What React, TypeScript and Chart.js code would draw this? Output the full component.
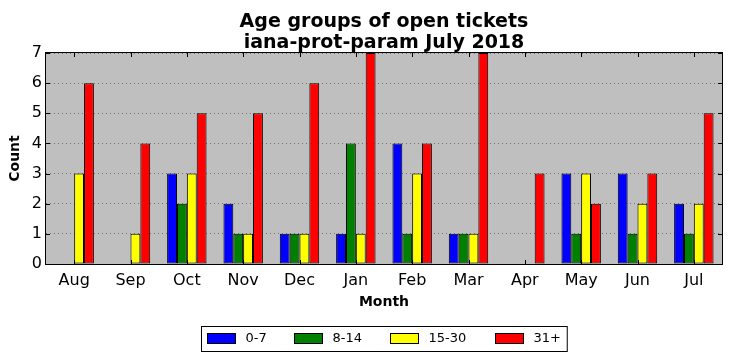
import React, { useEffect, useRef } from "react";
import { Chart, registerables } from "chart.js";

Chart.register(...registerables);

const categories = ["Aug", "Sep", "Oct", "Nov", "Dec", "Jan", "Feb", "Mar", "Apr", "May", "Jun", "Jul"];
const age0to7 = [0, 0, 3, 2, 1, 1, 4, 1, 0, 3, 3, 2];
const age8to14 = [0, 0, 2, 1, 1, 4, 1, 1, 0, 1, 1, 1];
const age15to30 = [3, 1, 3, 1, 1, 1, 3, 1, 0, 3, 2, 2];
const age31plus = [6, 4, 5, 5, 6, 7, 4, 7, 3, 2, 3, 5];
const seriesLabels = ["0-7", "8-14", "15-30", "31+"];
const seriesColors = ["#0000ff", "#008000", "#ffff00", "#ff0000"];
const yMin = 0;
const yMax = 7;
const titleLines = ["Age groups of open tickets", "iana-prot-param July 2018"];
const xTitle = "Month";
const yTitle = "Count";

const FONT = '"DejaVu Sans", sans-serif';

const decorPlugin = {
  id: "decor",
  beforeDraw(chart: any) {
    const { ctx, chartArea: a } = chart;
    ctx.save();
    ctx.fillStyle = "#bfbfbf";
    ctx.fillRect(a.left, a.top, a.right - a.left, a.bottom - a.top);
    ctx.restore();
  },
  afterDatasetsDraw(chart: any) {
    const { ctx, chartArea: a, scales } = chart;
    const xs = scales.x;
    const ys = scales.y;
    ctx.save();
    ctx.strokeStyle = "#000";
    ctx.lineWidth = 1;
    ctx.beginPath();
    xs.ticks.forEach((_: any, i: number) => {
      const px = Math.round(xs.getPixelForTick(i)) + 0.5;
      ctx.moveTo(px, a.bottom);
      ctx.lineTo(px, a.bottom - 4);
      ctx.moveTo(px, a.top);
      ctx.lineTo(px, a.top + 4);
    });
    ys.ticks.forEach((_: any, i: number) => {
      const py = Math.round(ys.getPixelForTick(i)) + 0.5;
      ctx.moveTo(a.left, py);
      ctx.lineTo(a.left + 4, py);
      ctx.moveTo(a.right, py);
      ctx.lineTo(a.right - 4, py);
    });
    ctx.stroke();
    ctx.strokeRect(a.left - 0.5, a.top - 0.5, a.right - a.left + 1, a.bottom - a.top + 1);
    ctx.restore();
  },
  afterDraw(chart: any) {
    const { ctx, chartArea: a } = chart;
    const cx = (a.left + a.right) / 2;
    ctx.save();
    // title
    ctx.fillStyle = "#000";
    ctx.font = `bold 19px ${FONT}`;
    ctx.textAlign = "center";
    ctx.textBaseline = "alphabetic";
    ctx.fillText(titleLines[0], cx, 27);
    ctx.fillText(titleLines[1], cx, 47.5);

    // legend
    ctx.font = `13px ${FONT}`;
    const patchW = 28;
    const patchH = 10;
    const textGap = 10;
    const itemGap = 28.6;
    const padL = 5;
    const padR = 7;
    const ds = chart.data.datasets;
    const widths = ds.map((d: any) => ctx.measureText(d.label).width);
    let total = padL + padR;
    widths.forEach((w: number, i: number) => {
      total += patchW + textGap + w;
      if (i < widths.length - 1) total += itemGap;
    });
    const fx = Math.round(cx - total / 2) + 0.5;
    const fy = 326.5;
    const fh = 25;
    ctx.fillStyle = "#fff";
    ctx.fillRect(fx, fy, total, fh);
    ctx.strokeStyle = "#000";
    ctx.lineWidth = 1;
    ctx.strokeRect(fx, fy, total, fh);
    let x = fx + padL;
    const py = 333.5;
    ds.forEach((d: any, i: number) => {
      const px = Math.round(x) + 0.5;
      ctx.fillStyle = d.backgroundColor;
      ctx.fillRect(px, py, patchW, patchH);
      ctx.strokeStyle = "#000";
      ctx.strokeRect(px, py, patchW, patchH);
      ctx.fillStyle = "#000";
      ctx.textAlign = "left";
      ctx.textBaseline = "middle";
      ctx.fillText(d.label, px + patchW + textGap, py + patchH / 2);
      x += patchW + textGap + widths[i] + itemGap;
    });
    ctx.restore();
  },
};

export default function App() {
  const ref = useRef<HTMLCanvasElement | null>(null);

  useEffect(() => {
    document.body.style.margin = "0";
    if (!ref.current) return;
    const seriesData = [age0to7, age8to14, age15to30, age31plus];
    const chart = new Chart(ref.current, {
      type: "bar",
      data: {
        labels: categories,
        datasets: seriesData.map((vals, i) => ({
          label: seriesLabels[i],
          data: vals,
          backgroundColor: seriesColors[i],
          borderColor: "#000",
          borderWidth: 1,
          borderSkipped: false,
          categoryPercentage: 0.7,
          barPercentage: 1.0,
        })),
      },
      options: {
        responsive: false,
        animation: false,
        devicePixelRatio: 1,
        layout: { padding: { top: 53, right: 10, bottom: 47, left: 0 } },
        plugins: {
          legend: { display: false },
          title: { display: false },
          tooltip: { enabled: false },
        },
        scales: {
          x: {
            type: "category",
            offset: true,
            grid: { display: false, drawTicks: false },
            border: { display: false },
            ticks: {
              font: { family: FONT, size: 16 },
              color: "#000",
              padding: 7,
              maxRotation: 0,
              autoSkip: false,
            },
            title: {
              display: true,
              text: xTitle,
              font: { family: FONT, size: 14, weight: "bold" },
              color: "#000",
              padding: { top: 0, bottom: 3 },
            },
            afterFit(s: any) {
              s.height = 50;
            },
          },
          y: {
            min: yMin,
            max: yMax,
            ticks: {
              stepSize: 1,
              font: { family: FONT, size: 16 },
              color: "#000",
              padding: 4,
            },
            grid: { color: "rgba(0,0,0,0.4)", lineWidth: 1, drawTicks: false },
            border: { display: false, dash: [1, 3] },
            title: {
              display: true,
              text: yTitle,
              font: { family: FONT, size: 14, weight: "bold" },
              color: "#000",
              padding: { top: 7, bottom: 0 },
            },
            afterFit(s: any) {
              s.width = 46;
            },
          },
        },
      } as any,
      plugins: [decorPlugin],
    });
    return () => chart.destroy();
  }, []);

  return <canvas ref={ref} width={732} height={361} style={{ display: "block" }} />;
}
